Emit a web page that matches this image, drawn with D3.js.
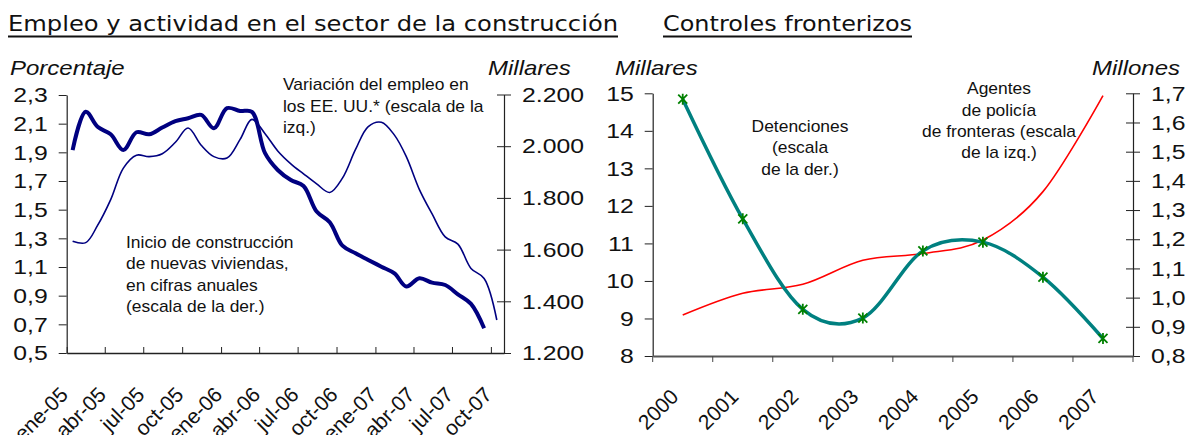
<!DOCTYPE html>
<html>
<head>
<meta charset="utf-8">
<script src="https://cdn.jsdelivr.net/npm/d3@7"></script>
<style>
  body { margin: 0; background: #fff; }
  svg text { font-family: "Liberation Sans", Arial, sans-serif; fill: #111; }
</style>
</head>
<body>
<svg id="chart" width="1188" height="435"></svg>
<script>
// ---- data ----
const months = ["2005-01","2005-02","2005-03","2005-04","2005-05","2005-06","2005-07","2005-08","2005-09","2005-10","2005-11","2005-12",
  "2006-01","2006-02","2006-03","2006-04","2006-05","2006-06","2006-07","2006-08","2006-09","2006-10","2006-11","2006-12",
  "2007-01","2007-02","2007-03","2007-04","2007-05","2007-06","2007-07","2007-08","2007-09","2007-10"]
// variación del empleo, % (escala izq.)
const empleoVar = [1.28, 1.27, 1.39, 1.57, 1.79, 1.88, 1.87, 1.89, 1.97, 2.07, 1.95, 1.87,
  1.86, 1.99, 2.13, 2.03, 1.91, 1.82, 1.75, 1.68, 1.62, 1.72, 1.92, 2.08,
  2.11, 2.02, 1.87, 1.64, 1.47, 1.31, 1.26, 1.09, 1.02, 0.73]
// inicio de construcción de viviendas, millares (escala der.)
const viviendas = [1985, 2133, 2075, 2046, 1985, 2054, 2046, 2072, 2097, 2108, 2121, 2069,
  2147, 2136, 2133, 1973, 1908, 1869, 1846, 1747, 1706, 1615, 1586, 1560,
  1534, 1508, 1457, 1489, 1472, 1463, 1427, 1390, 1296]
const quarterLabels = ["ene-05","abr-05","jul-05","oct-05","ene-06","abr-06","jul-06","oct-06","ene-07","abr-07","jul-07","oct-07"]
const pctTicks = [0.5, 0.7, 0.9, 1.1, 1.3, 1.5, 1.7, 1.9, 2.1, 2.3]
const milTicks = [1200, 1400, 1600, 1800, 2000, 2200]

const years = ["2000","2001","2002","2003","2004","2005","2006","2007"]
// agentes de policía de fronteras, millares (escala izq.)
const agentes = [9.09, 9.67, 9.91, 10.55, 10.73, 11.09, 12.38, 14.94]
// detenciones, millones (escala der.)
const detenciones = [1.68, 1.27, 0.96, 0.93, 1.16, 1.19, 1.07, 0.86]
const agentesTicks = [8, 9, 10, 11, 12, 13, 14, 15]
const detTicks = [0.8, 0.9, 1.0, 1.1, 1.2, 1.3, 1.4, 1.5, 1.6, 1.7]

// ---- setup ----
const es = d3.formatLocale({decimal: ",", thousands: ".", grouping: [3], currency: ["", " €"]})
const fmt1 = es.format(".1f")
const fmtK = es.format(",d")
const parseMonth = d3.timeParse("%Y-%m")

const TICK_K = 1.18   // the source picture is stretched sideways
const NOTE_K = 1.09
const svg = d3.select("#chart")

function stretch(sel, k) {
  sel.each(function() {
    const t = d3.select(this)
    const x = +t.attr("x") || 0
    const y = +t.attr("y") || 0
    t.attr("x", null).attr("y", null)
      .attr("transform", `translate(${x},${y}) scale(${k},1)`)
  })
}

function note(x, ys, lines, anchor, k) {
  lines.forEach((l, i) => {
    svg.append("text")
      .attr("transform", `translate(${x},${ys[i]}) scale(${k},1)`)
      .attr("text-anchor", anchor)
      .attr("font-size", 16)
      .text(l)
  })
}

function title(x, y, w, str) {
  svg.append("text")
    .attr("x", x).attr("y", y)
    .attr("font-size", 22)
    .style("font-family", "'DejaVu Sans', Verdana, sans-serif")
    .attr("textLength", w)
    .attr("lengthAdjust", "spacingAndGlyphs")
    .text(str)
  svg.append("line")
    .attr("x1", x).attr("x2", x + w)
    .attr("y1", y + 5.5).attr("y2", y + 5.5)
    .attr("stroke", "#111").attr("stroke-width", 1.8)
}

function axisTitle(x, y, str) {
  svg.append("text")
    .attr("transform", `translate(${x},${y}) scale(1.2,1)`)
    .attr("font-size", 20)
    .style("font-style", "italic")
    .text(str)
}

function styleAxis(g, size) {
  g.attr("font-size", size)
  g.select(".domain").attr("stroke", "#222").attr("stroke-width", 1.2)
  g.selectAll(".tick line").attr("stroke", "#222")
}

// ---- titles ----
title(8, 31, 610, "Empleo y actividad en el sector de la construcción")
title(663, 31, 249, "Controles fronterizos")

// ==== left chart ====
const xL = d3.scaleTime()
  .domain([new Date(2005, 0, 1), new Date(2007, 10, 1)])
  .range([66.7, 504])
const yPct = d3.scaleLinear().domain([0.5, 2.3]).range([353, 95])
const yMil = d3.scaleLinear().domain([1200, 2200]).range([353, 94.5])
const monthDates = months.map(m => d3.timeDay.offset(parseMonth(m), 14))
const quarterDates = d3.timeMonth.every(3).range(new Date(2005, 0, 1), new Date(2007, 10, 1))

const yAxisL = svg.append("g")
  .attr("transform", "translate(66.7,0)")
  .call(d3.axisLeft(yPct).tickValues(pctTicks).tickFormat(fmt1)
    .tickSize(8).tickSizeOuter(0).tickPadding(11))
styleAxis(yAxisL, 21)
stretch(yAxisL.selectAll(".tick text"), TICK_K)

const yAxisR = svg.append("g")
  .attr("transform", "translate(504,0)")
  .call(d3.axisRight(yMil).tickValues(milTicks).tickFormat(fmtK)
    .tickSize(7).tickSizeOuter(0).tickPadding(11))
styleAxis(yAxisR, 21)
yAxisR.selectAll(".tick line").attr("x1", -7)
stretch(yAxisR.selectAll(".tick text"), TICK_K)

const xAxisL = svg.append("g")
  .attr("transform", "translate(0,353)")
  .call(d3.axisBottom(xL).tickValues(quarterDates)
    .tickFormat((d, i) => quarterLabels[i])
    .tickSize(-6).tickSizeOuter(0))
styleAxis(xAxisL, 21)
xAxisL.select(".domain").attr("stroke-width", 1.6)
xAxisL.selectAll(".tick text")
  .attr("y", null).attr("dy", null)
  .attr("text-anchor", "end")
  .attr("transform", "translate(2,43) rotate(-45)")

const empleoLine = d3.line()
  .x((d, i) => xL(monthDates[i]))
  .y(d => yPct(d))
  .curve(d3.curveCatmullRom)
svg.append("path")
  .attr("d", empleoLine(empleoVar))
  .attr("fill", "none")
  .attr("stroke", "#000080")
  .attr("stroke-width", 1.6)

const viviendasLine = d3.line()
  .x((d, i) => xL(monthDates[i]))
  .y(d => yMil(d))
  .curve(d3.curveCatmullRom)
svg.append("path")
  .attr("d", viviendasLine(viviendas))
  .attr("fill", "none")
  .attr("stroke", "#000080")
  .attr("stroke-width", 4)
  .attr("stroke-linejoin", "round")

axisTitle(10, 75, "Porcentaje")
axisTitle(488, 75, "Millares")
note(283, [90, 111.7, 133.3], ["Variación del empleo en", "los EE. UU.* (escala de la", "izq.)"], "start", NOTE_K)
note(126, [247.5, 269, 290.5, 312], ["Inicio de construcción", "de nuevas viviendas,", "en cifras anuales", "(escala de la der.)"], "start", NOTE_K)

// ==== right chart ====
const xR = d3.scaleBand().domain(years).range([652.7, 1133]).padding(0)
const yAg = d3.scaleLinear().domain([8, 15]).range([356, 93.3])
const yDet = d3.scaleLinear().domain([0.8, 1.7]).range([356, 93.3])
const cx = y => xR(y) + xR.bandwidth() / 2

const yAxisAg = svg.append("g")
  .attr("transform", "translate(652.7,0)")
  .call(d3.axisLeft(yAg).tickValues(agentesTicks).tickFormat(d3.format("d"))
    .tickSize(8).tickSizeOuter(0).tickPadding(11))
styleAxis(yAxisAg, 21)
stretch(yAxisAg.selectAll(".tick text"), TICK_K)

const yAxisDet = svg.append("g")
  .attr("transform", "translate(1133,0)")
  .call(d3.axisRight(yDet).tickValues(detTicks).tickFormat(fmt1)
    .tickSize(7).tickSizeOuter(0).tickPadding(11))
styleAxis(yAxisDet, 21)
yAxisDet.selectAll(".tick line").attr("x1", -7)
stretch(yAxisDet.selectAll(".tick text"), TICK_K)

const xAxisR = svg.append("g")
  .attr("transform", "translate(0,356)")
  .call(d3.axisBottom(xR).tickSize(0).tickSizeOuter(0))
styleAxis(xAxisR, 21)
xAxisR.select(".domain").attr("stroke", "#555").attr("stroke-width", 2)
xAxisR.selectAll(".tick text")
  .attr("y", null).attr("dy", null)
  .attr("text-anchor", "end")
  .attr("transform", "translate(-3,42) rotate(-45)")
xAxisR.selectAll(".bound")
  .data([...years.map(y => xR(y)), xR.range()[1]])
  .join("line")
    .attr("class", "bound")
    .attr("x1", d => d).attr("x2", d => d)
    .attr("y1", 0).attr("y2", 6)
    .attr("stroke", "#444")

const agentesLine = d3.line()
  .x((d, i) => cx(years[i]))
  .y(d => yAg(d))
  .curve(d3.curveCardinal.tension(0))
svg.append("path")
  .attr("d", agentesLine(agentes))
  .attr("fill", "none")
  .attr("stroke", "#ff0000")
  .attr("stroke-width", 1.6)

const detLine = d3.line()
  .x((d, i) => cx(years[i]))
  .y(d => yDet(d))
  .curve(d3.curveCardinal.tension(0))
svg.append("path")
  .attr("d", detLine(detenciones))
  .attr("fill", "none")
  .attr("stroke", "#008080")
  .attr("stroke-width", 3.5)

svg.append("g").selectAll("path")
  .data(detenciones)
  .join("path")
    .attr("transform", (d, i) => `translate(${cx(years[i])},${yDet(d)})`)
    .attr("d", "M-4.5,-4.5L4.5,4.5M-4.5,4.5L4.5,-4.5M0,-5.5V5.5")
    .attr("stroke", "#008000")
    .attr("stroke-width", 1.8)
    .attr("fill", "none")

axisTitle(615, 75, "Millares")
axisTitle(1092, 75, "Millones")
note(800, [131.7, 153.3, 175], ["Detenciones", "(escala", "de la der.)"], "middle", NOTE_K)
note(999, [94.3, 115.7, 137.3, 158.3], ["Agentes", "de policía", "de fronteras (escala", "de la izq.)"], "middle", NOTE_K)
</script>
</body>
</html>
